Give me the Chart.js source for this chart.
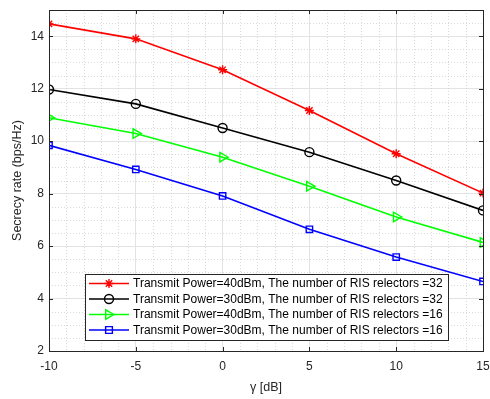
<!DOCTYPE html>
<html>
<head>
<meta charset="utf-8">
<script src="https://cdn.jsdelivr.net/npm/chart.js@4"></script>
<style>
  html, body { margin: 0; padding: 0; background: #fff; }
  #wrap { width: 490px; height: 399px; }
</style>
</head>
<body>
<div id="wrap"><canvas id="chart" width="490" height="399"></canvas></div>
<script>
// --- Data ---
const gammaDb = [-10, -5, 0, 5, 10, 15];
const p40n32 = [14.47, 13.9, 12.72, 11.17, 9.52, 8.02];
const p30n32 = [11.97, 11.42, 10.5, 9.58, 8.5, 7.36];
const p40n16 = [10.89, 10.29, 9.39, 8.28, 7.11, 6.14];
const p30n16 = [9.84, 8.92, 7.91, 6.64, 5.58, 4.65];
const seriesLabels = [
  "Transmit Power=40dBm, The number of RIS relectors =32",
  "Transmit Power=30dBm, The number of RIS relectors =32",
  "Transmit Power=40dBm, The number of RIS relectors =16",
  "Transmit Power=30dBm, The number of RIS relectors =16",
];
const xTicks = [-10, -5, 0, 5, 10, 15];
const yTicks = [2, 4, 6, 8, 10, 12, 14];

const FONT = "'Liberation Sans', Arial, sans-serif";
const TEXT = "#262626";

function pts(ys) {
  return gammaDb.map((x, i) => ({ x, y: ys[i] }));
}

const styles = [
  { color: "#ff0000", pointStyle: "star", radius: 4.5, rotation: 0 },
  { color: "#000000", pointStyle: "circle", radius: 4.5, rotation: 0 },
  { color: "#00ff00", pointStyle: "triangle", radius: 5.5, rotation: 90 },
  { color: "#0000ff", pointStyle: "rect", radius: 4.5, rotation: 0 },
];

const datasets = [p40n32, p30n32, p40n16, p30n16].map((ys, i) => ({
  label: seriesLabels[i],
  data: pts(ys),
  borderColor: styles[i].color,
  backgroundColor: "rgba(0,0,0,0)",
  pointBorderColor: styles[i].color,
  pointBackgroundColor: "rgba(0,0,0,0)",
  pointStyle: styles[i].pointStyle,
  pointRadius: styles[i].radius,
  pointRotation: styles[i].rotation,
  pointBorderWidth: 1.4,
  borderWidth: 1.6,
  tension: 0,
}));

// --- Minor dotted grid, box and inward ticks (MATLAB look) ---
const matlabFrame = {
  id: "matlabFrame",
  beforeDatasetsDraw(chart) {
    const { ctx, chartArea: a, scales } = chart;
    ctx.save();
    ctx.strokeStyle = "#d0d0d0";
    ctx.lineWidth = 0.8;
    ctx.setLineDash([1, 2]);
    for (let v = -10; v <= 15; v += 1) {
      if (v % 5 === 0) continue;
      const px = Math.round(scales.x.getPixelForValue(v)) + 0.5;
      ctx.beginPath();
      ctx.moveTo(px, a.top);
      ctx.lineTo(px, a.bottom);
      ctx.stroke();
    }
    for (let v = 2; v <= 15; v += 0.5) {
      if (v % 2 === 0) continue;
      const py = Math.round(scales.y.getPixelForValue(v)) + 0.5;
      ctx.beginPath();
      ctx.moveTo(a.left, py);
      ctx.lineTo(a.right, py);
      ctx.stroke();
    }
    ctx.restore();
  },
  afterDatasetsDraw(chart) {
    const { ctx, chartArea: a, scales } = chart;
    ctx.save();
    ctx.strokeStyle = TEXT;
    ctx.lineWidth = 1;
    ctx.setLineDash([]);
    ctx.strokeRect(Math.round(a.left) + 0.5, Math.round(a.top) + 0.5,
      Math.round(a.right - a.left), Math.round(a.bottom - a.top));
    const t = 4;
    xTicks.forEach((v) => {
      const px = Math.round(scales.x.getPixelForValue(v)) + 0.5;
      ctx.beginPath();
      ctx.moveTo(px, a.bottom); ctx.lineTo(px, a.bottom - t);
      ctx.moveTo(px, a.top); ctx.lineTo(px, a.top + t);
      ctx.stroke();
    });
    yTicks.forEach((v) => {
      const py = Math.round(scales.y.getPixelForValue(v)) + 0.5;
      ctx.beginPath();
      ctx.moveTo(a.left, py); ctx.lineTo(a.left + t, py);
      ctx.moveTo(a.right, py); ctx.lineTo(a.right - t, py);
      ctx.stroke();
    });
    ctx.restore();
  },
};

// --- Legend box inside the plot ---
function drawMarker(ctx, st, x, y) {
  ctx.save();
  ctx.strokeStyle = st.color;
  ctx.lineWidth = 1.4;
  const r = st.radius;
  ctx.beginPath();
  if (st.pointStyle === "star") {
    for (let k = 0; k < 4; k++) {
      const ang = (k * Math.PI) / 4;
      ctx.moveTo(x - r * Math.cos(ang), y - r * Math.sin(ang));
      ctx.lineTo(x + r * Math.cos(ang), y + r * Math.sin(ang));
    }
  } else if (st.pointStyle === "circle") {
    ctx.arc(x, y, r, 0, Math.PI * 2);
  } else if (st.pointStyle === "triangle") {
    ctx.moveTo(x + r * 0.9, y);
    ctx.lineTo(x - r * 0.6, y - r * 0.85);
    ctx.lineTo(x - r * 0.6, y + r * 0.85);
    ctx.closePath();
  } else {
    ctx.rect(x - r * 0.75, y - r * 0.75, r * 1.5, r * 1.5);
  }
  ctx.stroke();
  ctx.restore();
}

const insideLegend = {
  id: "insideLegend",
  afterDraw(chart) {
    const { ctx } = chart;
    const box = { x: 85.5, y: 274.5, w: 363, h: 66 };
    ctx.save();
    ctx.fillStyle = "#fff";
    ctx.fillRect(box.x, box.y, box.w, box.h);
    ctx.strokeStyle = TEXT;
    ctx.lineWidth = 1;
    ctx.strokeRect(box.x, box.y, box.w, box.h);
    ctx.font = "12px " + FONT;
    ctx.textBaseline = "middle";
    seriesLabels.forEach((lab, i) => {
      const y = 283.5 + i * 15.5;
      ctx.strokeStyle = styles[i].color;
      ctx.lineWidth = 1.6;
      ctx.beginPath();
      ctx.moveTo(89, y);
      ctx.lineTo(129, y);
      ctx.stroke();
      drawMarker(ctx, styles[i], 109, y);
      ctx.fillStyle = "#000";
      ctx.fillText(lab, 133, y + 0.5);
    });
    ctx.restore();
  },
};

new Chart(document.getElementById("chart"), {
  type: "line",
  data: { datasets },
  plugins: [matlabFrame, insideLegend],
  options: {
    responsive: false,
    animation: false,
    layout: { padding: { top: 10, right: 7, left: 0, bottom: 0 } },
    plugins: { legend: { display: false }, tooltip: { enabled: false } },
    scales: {
      x: {
        type: "linear",
        min: -10,
        max: 15,
        afterBuildTicks: (s) => { s.ticks = xTicks.map((v) => ({ value: v })); },
        afterFit: (s) => { s.height = 48; s.paddingLeft = 0; s.paddingRight = 0; },
        grid: { color: "#e3e3e3", lineWidth: 1, drawTicks: false },
        border: { display: false },
        ticks: { color: TEXT, font: { family: FONT, size: 12 }, padding: 8 },
        title: {
          display: true,
          text: "γ [dB]",
          color: TEXT,
          font: { family: FONT, size: 12.5 },
          padding: { top: 0, bottom: 4 },
        },
      },
      y: {
        type: "linear",
        min: 2,
        max: 15,
        afterBuildTicks: (s) => { s.ticks = yTicks.map((v) => ({ value: v })); },
        afterFit: (s) => { s.width = 49; s.paddingTop = 0; s.paddingBottom = 0; },
        grid: { color: "#e3e3e3", lineWidth: 1, drawTicks: false },
        border: { display: false },
        ticks: { color: TEXT, font: { family: FONT, size: 12 }, padding: 5 },
        title: {
          display: true,
          text: "Secrecy rate (bps/Hz)",
          color: TEXT,
          font: { family: FONT, size: 12.5 },
          padding: { top: 10, bottom: 0 },
        },
      },
    },
  },
});
</script>
</body>
</html>
